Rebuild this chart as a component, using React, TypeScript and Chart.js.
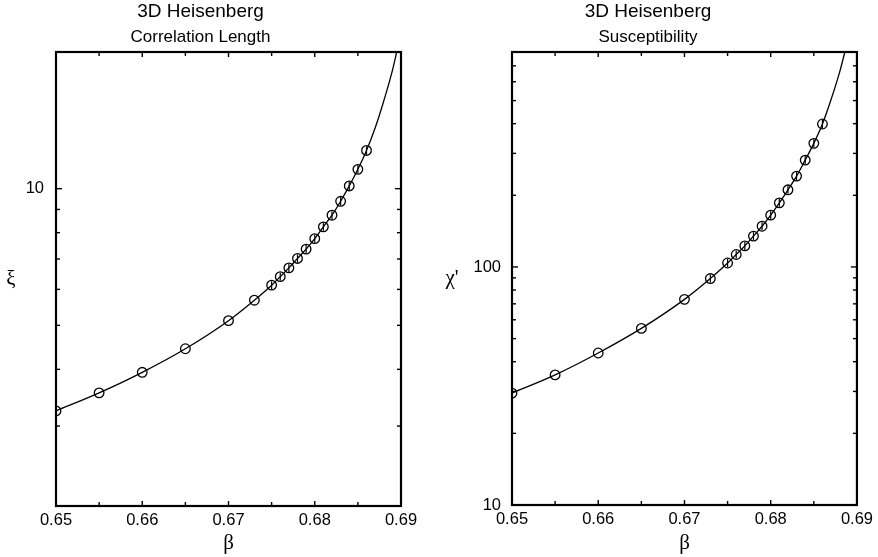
import React, { useEffect, useRef } from "react";
import { Chart, registerables } from "chart.js";

Chart.register(...registerables);

// ---- data ----
const beta = [0.65, 0.655, 0.66, 0.665, 0.67, 0.673, 0.675, 0.676, 0.677, 0.678, 0.679, 0.68, 0.681, 0.682, 0.683, 0.684, 0.685, 0.686];
const xi = [3.24, 3.55, 3.94, 4.44, 5.12, 5.68, 6.13, 6.4, 6.69, 7.02, 7.36, 7.76, 8.24, 8.74, 9.38, 10.14, 11.03, 12.14];
const chi = [29.5, 35.2, 43.5, 55.2, 73.1, 89.4, 103.9, 112.8, 122.6, 134.7, 148.3, 165.1, 185.9, 210.9, 240.8, 281.2, 330.6, 398.6];
const xiBar = [true, false, false, false, false, false, true, true, true, true, true, true, true, true, true, true, true, true];
const chiBar = [true, false, false, false, false, true, true, true, true, true, true, true, true, true, true, true, true, true];

// fitted curve continuation beyond the last data point
const xiFitBeta = [0.687, 0.688, 0.689, 0.6895];
const xiFit = [13.6, 15.6, 18.2, 20];
const chiFitBeta = [0.687, 0.688, 0.6886];
const chiFit = [505, 660, 800];

// axes
const xTickLabels = [0.65, 0.66, 0.67, 0.68, 0.69];
const xTickMarks = [0.65, 0.655, 0.66, 0.665, 0.67, 0.675, 0.68, 0.685, 0.69];
const xiTickLabels = [10];
const xiTickMarks = [2, 3, 4, 5, 6, 7, 8, 9, 10, 20];
const chiTickLabels = [10, 100];
const chiTickMarks = [10, 20, 30, 40, 50, 60, 70, 80, 90, 100, 200, 300, 400, 500, 600, 700, 800];

const SANS = "'Liberation Sans', Arial, Helvetica, sans-serif";
const SERIF = "'Liberation Serif', 'DejaVu Serif', 'Times New Roman', serif";

const frameTicks = {
  id: "frameTicks",
  afterDraw(chart: any, _args: any, opts: any) {
    const { ctx, chartArea: a, scales } = chart;
    const xs = scales.x;
    const ys = scales.y;
    ctx.save();
    ctx.strokeStyle = "#000";
    ctx.lineWidth = 1.4;
    const seg = (x1: number, y1: number, x2: number, y2: number) => {
      ctx.beginPath();
      ctx.moveTo(x1, y1);
      ctx.lineTo(x2, y2);
      ctx.stroke();
    };
    for (const v of opts.xMarks) {
      const px = xs.getPixelForValue(v);
      const len = opts.xMajor.includes(v) ? 5 : 4;
      seg(px, a.bottom, px, a.bottom - len);
      seg(px, a.top, px, a.top + len);
    }
    for (const v of opts.yMarks) {
      const py = ys.getPixelForValue(v);
      const len = opts.yMajor.includes(v) ? 6 : 4;
      seg(a.left, py, a.left + len, py);
      seg(a.right, py, a.right - len, py);
    }
    ctx.lineWidth = 2.2;
    ctx.strokeRect(a.left, a.top, a.right - a.left, a.bottom - a.top);
    ctx.fillStyle = "#000";
    ctx.font = `21px ${SERIF}`;
    ctx.textAlign = "center";
    ctx.textBaseline = "middle";
    ctx.fillText(opts.yLabel, opts.yLabelX, (a.top + a.bottom) / 2);
    ctx.restore();
  },
};

function makeConfig(p: any) {
  const pts = beta.map((b, i) => ({ x: b, y: p.values[i] }));
  const fit = pts.concat(p.fitBeta.map((b: number, i: number) => ({ x: b, y: p.fitValues[i] })));
  const bars = beta.map((b, i) => (p.bars[i] ? { x: b, y: p.values[i] } : null)).filter(Boolean);
  return {
    type: "scatter",
    data: {
      datasets: [
        {
          data: fit,
          showLine: true,
          borderColor: "#000",
          borderWidth: 1.3,
          pointRadius: 0,
          cubicInterpolationMode: "monotone",
          fill: false,
        },
        {
          data: pts,
          pointStyle: "circle",
          pointRadius: 4.8,
          pointBorderWidth: 1.3,
          borderColor: "#000",
          backgroundColor: "rgba(0,0,0,0)",
        },
        {
          data: bars,
          pointStyle: "line",
          rotation: 90,
          pointRadius: 4,
          pointBorderWidth: 1.2,
          borderColor: "#000",
          backgroundColor: "#000",
        },
      ],
    },
    options: {
      responsive: false,
      animation: false,
      events: [],
      layout: { padding: { top: 0, left: 0, right: p.padRight, bottom: 0 } },
      plugins: {
        legend: { display: false },
        tooltip: { enabled: false },
        title: {
          display: true,
          text: "3D Heisenberg",
          color: "#000",
          font: { family: SANS, size: 19, weight: "normal" },
          padding: { top: 0, bottom: 4 },
        },
        subtitle: {
          display: true,
          text: p.subtitle,
          color: "#000",
          font: { family: SANS, size: 17, weight: "normal" },
          padding: { top: 0, bottom: 4.8 },
        },
        frameTicks: {
          xMarks: xTickMarks,
          xMajor: xTickLabels,
          yMarks: p.yMarks,
          yMajor: p.yLabels,
          yLabel: p.yLabel,
          yLabelX: p.yLabelX,
        },
      },
      scales: {
        x: {
          type: "linear",
          min: 0.65,
          max: 0.69,
          afterBuildTicks: (s: any) => {
            s.ticks = xTickLabels.map((v) => ({ value: v }));
          },
          afterFit: (s: any) => {
            s.height = p.xHeight;
          },
          grid: { display: false, drawTicks: false },
          border: { display: false },
          ticks: {
            autoSkip: false,
            maxRotation: 0,
            padding: 5,
            color: "#000",
            font: { family: SANS, size: 16.5 },
            callback: (v: any) => Number(v).toFixed(2),
          },
          title: {
            display: true,
            text: "β",
            color: "#000",
            font: { family: SERIF, size: 21 },
            padding: { top: 0, bottom: 1 },
          },
        },
        y: {
          type: "logarithmic",
          min: p.yMin,
          max: p.yMax,
          afterBuildTicks: (s: any) => {
            s.ticks = p.yLabels.map((v: number) => ({ value: v }));
          },
          afterFit: (s: any) => {
            s.width = p.yWidth;
          },
          grid: { display: false, drawTicks: false },
          border: { display: false },
          ticks: {
            autoSkip: false,
            padding: p.yPad,
            color: "#000",
            font: { family: SANS, size: 16.5 },
            callback: (v: any) => String(v),
          },
        },
      },
    },
    plugins: [frameTicks],
  };
}

function Panel({ left, params }: { left: number; params: any }) {
  const ref = useRef<HTMLCanvasElement>(null);
  useEffect(() => {
    if (!ref.current) return;
    const chart = new Chart(ref.current, makeConfig(params) as any);
    return () => chart.destroy();
  }, []);
  return (
    <canvas
      ref={ref}
      width={439}
      height={557}
      style={{ position: "absolute", left, top: 0, width: 439, height: 557 }}
    />
  );
}

const leftParams = {
  subtitle: "Correlation Length",
  values: xi,
  bars: xiBar,
  fitBeta: xiFitBeta,
  fitValues: xiFit,
  yMin: 2,
  yMax: 20,
  yLabels: xiTickLabels,
  yMarks: xiTickMarks,
  yLabel: "ξ",
  yLabelX: 11,
  yWidth: 56,
  yPad: 12,
  xHeight: 51,
  padRight: 38,
};

const rightParams = {
  subtitle: "Susceptibility",
  values: chi,
  bars: chiBar,
  fitBeta: chiFitBeta,
  fitValues: chiFit,
  yMin: 10,
  yMax: 800,
  yLabels: chiTickLabels,
  yMarks: chiTickMarks,
  yLabel: "χ'",
  yLabelX: 13,
  yWidth: 73,
  yPad: 11,
  xHeight: 52,
  padRight: 21,
};

export default function App() {
  return (
    <div style={{ position: "fixed", left: 0, top: 0, width: 878, height: 557, background: "#fff" }}>
      <Panel left={0} params={leftParams} />
      <Panel left={439} params={rightParams} />
    </div>
  );
}
